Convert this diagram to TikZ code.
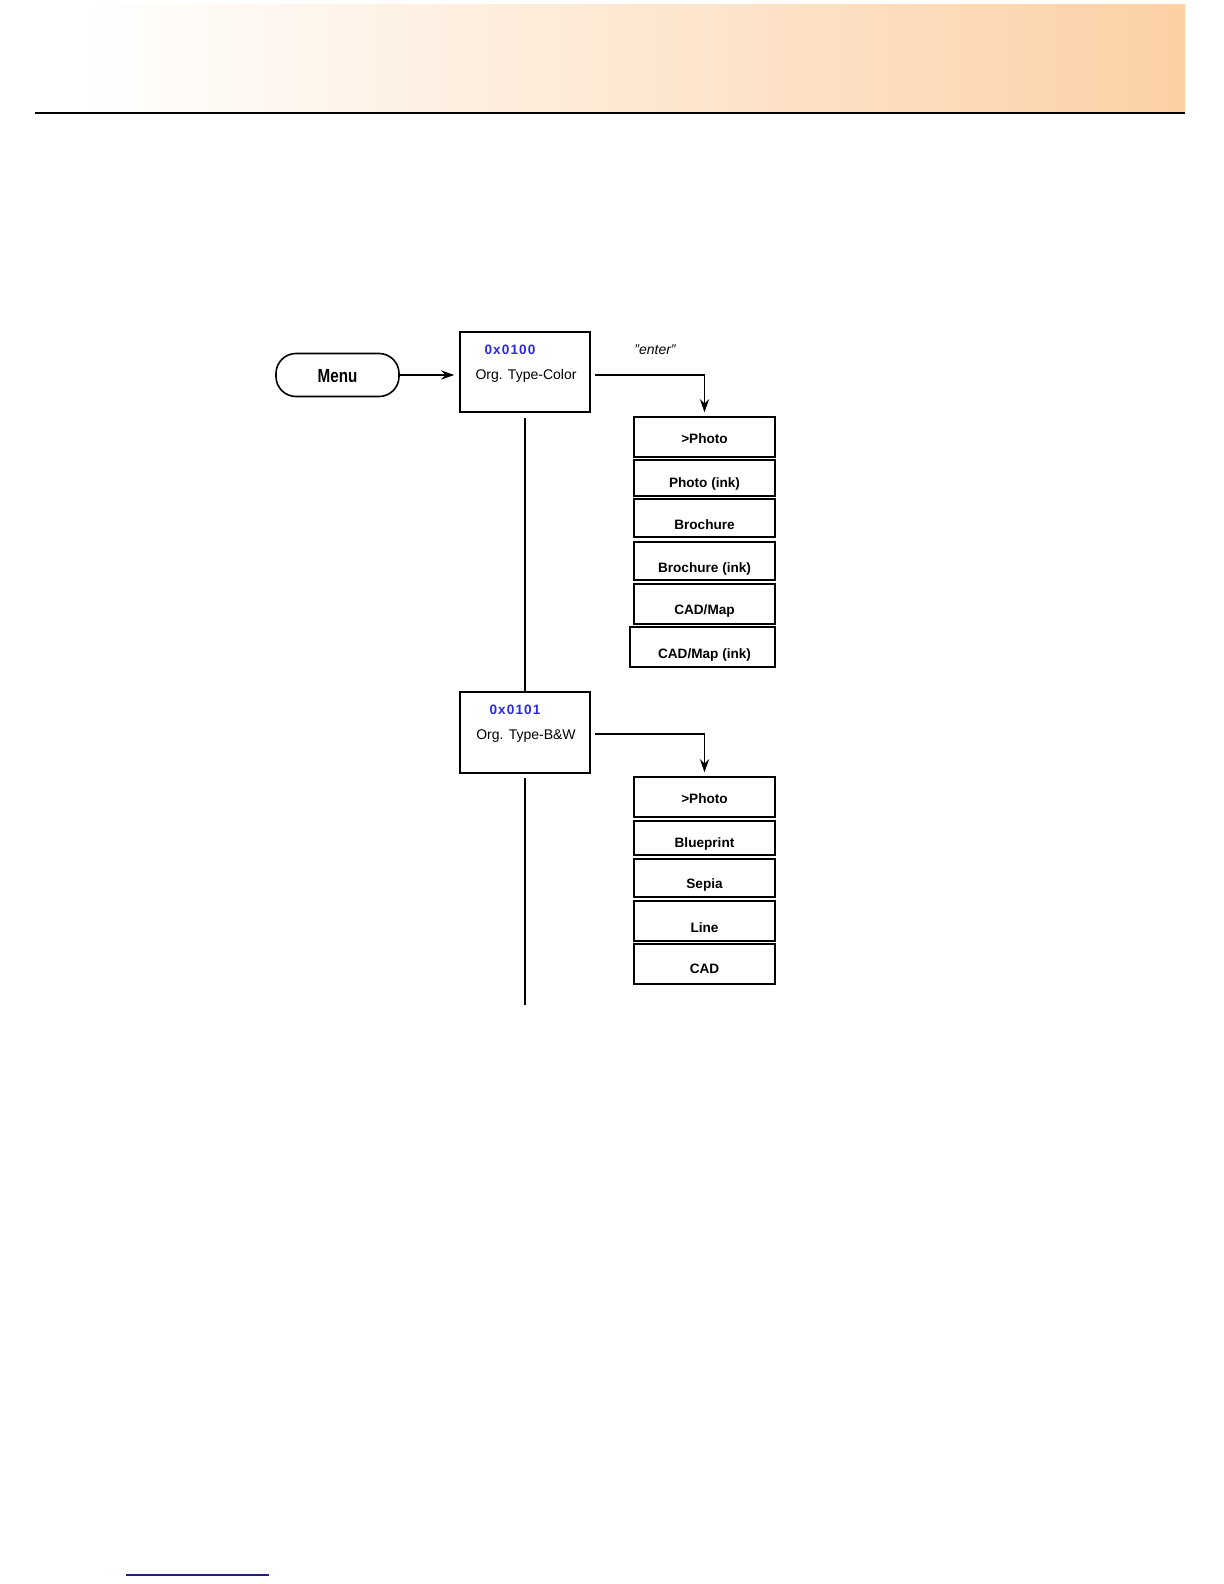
\documentclass[tikz,border=0pt]{standalone}
\usepackage{fontspec}
\usepackage{graphicx}
\setmainfont{Liberation Sans}
\newfontfamily\hexfont{Liberation Sans}[LetterSpace=8]
\usetikzlibrary{arrows.meta}
\definecolor{hexblue}{RGB}{40,40,230}
\definecolor{peach}{RGB}{252,208,165}
\definecolor{peachmid}{RGB}{253,236,220}
\definecolor{navy}{RGB}{30,30,140}

\begin{document}
\begin{tikzpicture}[x=0.5pt, y=-0.5pt, line width=0.8pt,
  every node/.append style={inner sep=0pt},
  statebox/.style={draw, minimum width=65pt, minimum height=40pt},
  menubox/.style={draw, rounded corners=10pt, minimum width=61.5pt, minimum height=21.5pt,
    text height=0.72em, text depth=0pt, font=\bfseries\fontsize{9.5}{10}\selectfont},
  itembox/.style={draw, minimum width=70.5pt},
  itemtext/.style={text height=0.72em, text depth=0pt, font=\bfseries\fontsize{6.8}{8}\selectfont},
  hextext/.style={text height=0.72em, text depth=0pt, text=hexblue, font=\hexfont\bfseries\fontsize{6.8}{8}\selectfont},
  labeltext/.style={text height=0.72em, text depth=0pt, font=\fontsize{7}{8}\selectfont},
  arr/.style={-{Stealth[length=6.5pt, width=4.6pt]}, line width=0.7pt}]
  \useasboundingbox (0,0) rectangle (1224,1584);
  % cabecera
  \shade[left color=white, middle color=peachmid, right color=peach] (81,5) rectangle (1185,113);
  \draw[line width=0.7pt] (35,113) -- (1185,113);
  % menu
  \node[menubox] (menu) at (337.5,375) {\scalebox{0.8}[1]{Menu}};
  % estado color
  \node[statebox] (s1) at (525,372) {};
  \node[hextext] (h1) at (510,347) {0x0100};
  \node[labeltext] (l1) at (526,372) {Org. Type-Color};
  \node[labeltext, font=\itshape\fontsize{7}{8}\selectfont] (enter) at (655,347) {”enter”};
  % opciones color
  \node[itembox, minimum height=20pt] (c1) at (704.5,437) {};
  \node[itemtext, yshift=0.5pt] (c1t) at (c1) {>Photo};
  \node[itembox, minimum height=18pt] (c2) at (704.5,478) {};
  \node[itemtext, yshift=-1pt] (c2t) at (c2) {Photo (ink)};
  \node[itembox, minimum height=19pt] (c3) at (704.5,518) {};
  \node[itemtext, yshift=-2pt] (c3t) at (c3) {Brochure};
  \node[itembox, minimum height=19pt] (c4) at (704.5,561) {};
  \node[itemtext, yshift=-2pt] (c4t) at (c4) {Brochure (ink)};
  \node[itembox, minimum height=20pt] (c5) at (704.5,604) {};
  \node[itemtext, yshift=-1.5pt] (c5t) at (c5) {CAD/Map};
  \node[itembox, minimum width=72.5pt, minimum height=20pt] (c6) at (702.5,647) {};
  \node[itemtext, yshift=-2pt] (c6t) at (704.5,647) {CAD/Map (ink)};
  % estado b/n
  \node[statebox, minimum height=40.5pt] (s2) at (525,732.5) {};
  \node[hextext] (h2) at (515,707) {0x0101};
  \node[labeltext] (l2) at (526,732) {Org. Type-B\&W};
  % opciones b/n
  \node[itembox, minimum height=20pt] (d1) at (704.5,797) {};
  \node[itemtext, yshift=0.5pt] (d1t) at (d1) {>Photo};
  \node[itembox, minimum height=17pt] (d2) at (704.5,838) {};
  \node[itemtext, yshift=-1pt] (d2t) at (d2) {Blueprint};
  \node[itembox, minimum height=19pt] (d3) at (704.5,878) {};
  \node[itemtext, yshift=-1.5pt] (d3t) at (d3) {Sepia};
  \node[itembox, minimum height=20pt] (d4) at (704.5,921) {};
  \node[itemtext, yshift=-2pt] (d4t) at (d4) {Line};
  \node[itembox, minimum height=20pt] (d5) at (704.5,964) {};
  \node[itemtext, yshift=-1pt] (d5t) at (d5) {CAD};
  % conexiones
  \draw[arr, shorten >=2.5pt] (menu.east) -- (menu.east -| s1.west);
  \draw[arr, shorten <=2pt, shorten >=2pt] ([yshift=-1.5pt]s1.east) -| (c1.north);
  \draw[shorten <=2.5pt] (s1.south) -- (s2.north);
  \draw[arr, shorten <=2pt, shorten >=2pt] ([yshift=-0.75pt]s2.east) -| (d1.north);
  \coordinate (fin) at (525,1005);
  \draw[shorten <=2pt] (s2.south) -- (fin);
  % pie
  \draw[navy, line width=0.6pt] (126,1575) -- (269,1575);
\end{tikzpicture}
\end{document}
